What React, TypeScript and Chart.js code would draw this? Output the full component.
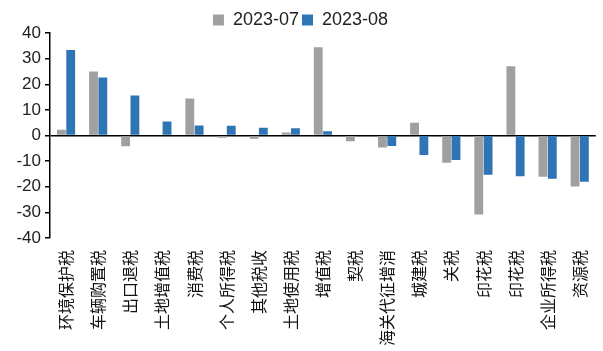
import React, { useEffect, useRef } from "react";
import { Chart, registerables } from "chart.js";

Chart.register(...registerables);

const categories = [
  "环境保护税", "车辆购置税", "出口退税", "土地增值税", "消费税", "个人所得税",
  "其他税收", "土地使用税", "增值税", "契税", "海关代征增消", "城建税", "关税",
  "印花税", "印花税", "企业所得税", "资源税",
];
const series07 = [2.2, 25.0, -4.2, 0, 14.4, -0.9, -1.3, 1.2, 34.4, -2.2, -4.7, 5.0, -10.6, -30.8, 27.0, -16.1, -19.9];
const series08 = [33.4, 22.6, 15.6, 5.5, 3.9, 3.8, 3.0, 2.8, 1.7, 0, -4.1, -7.6, -9.6, -15.3, -15.9, -16.9, -18.0];
const seriesNames = ["2023-07", "2023-08"];

export default function App() {
  const ref = useRef<HTMLCanvasElement>(null);
  useEffect(() => {
    if (!ref.current) return;
    const chart = new Chart(ref.current, {
      type: "bar",
      data: {
        labels: categories,
        datasets: [
          { label: seriesNames[0], data: series07, backgroundColor: "#a0a0a0", categoryPercentage: 0.58, barPercentage: 0.95 },
          { label: seriesNames[1], data: series08, backgroundColor: "#2e75b6", categoryPercentage: 0.58, barPercentage: 0.95 },
        ],
      },
      options: {
        animation: false,
        responsive: false,
        layout: { padding: { left: 0, right: 2, top: 8, bottom: 0 } },
        plugins: {
          tooltip: { enabled: false },
          legend: {
            position: "top",
            maxHeight: 25,
            labels: {
              boxWidth: 11,
              boxHeight: 11,
              padding: 3,
              color: "#222",
              font: { family: "'Liberation Sans', Arial, sans-serif", size: 18, lineHeight: 1 },
            },
          },
        },
        scales: {
          x: {
            grid: { display: false },
            border: { display: false },
            afterFit: (s: any) => { s.height = 113; },
            ticks: {
              autoSkip: false,
              maxRotation: 90,
              minRotation: 90,
              padding: 4,
              color: "#111",
              font: { family: "'Noto Sans CJK SC', sans-serif", size: 16 },
            },
          },
          y: {
            min: -40,
            max: 40,
            afterFit: (s: any) => { s.width = 50; },
            border: { display: true, color: "#000", width: 1.5 },
            grid: {
              color: (c: any) => (c.tick && c.tick.value === 0 ? "#000" : "rgba(0,0,0,0)"),
              lineWidth: 1.5,
              tickColor: "#000",
              tickLength: 5,
            },
            ticks: {
              stepSize: 10,
              color: "#222",
              padding: 4,
              font: { family: "'Liberation Sans', Arial, sans-serif", size: 17 },
            },
          },
        },
      },
    });
    return () => chart.destroy();
  }, []);
  return (
    <div style={{ position: "fixed", left: 0, top: 0, width: 603, height: 351, background: "#fff" }}>
      <canvas ref={ref} width={603} height={351} />
    </div>
  );
}
